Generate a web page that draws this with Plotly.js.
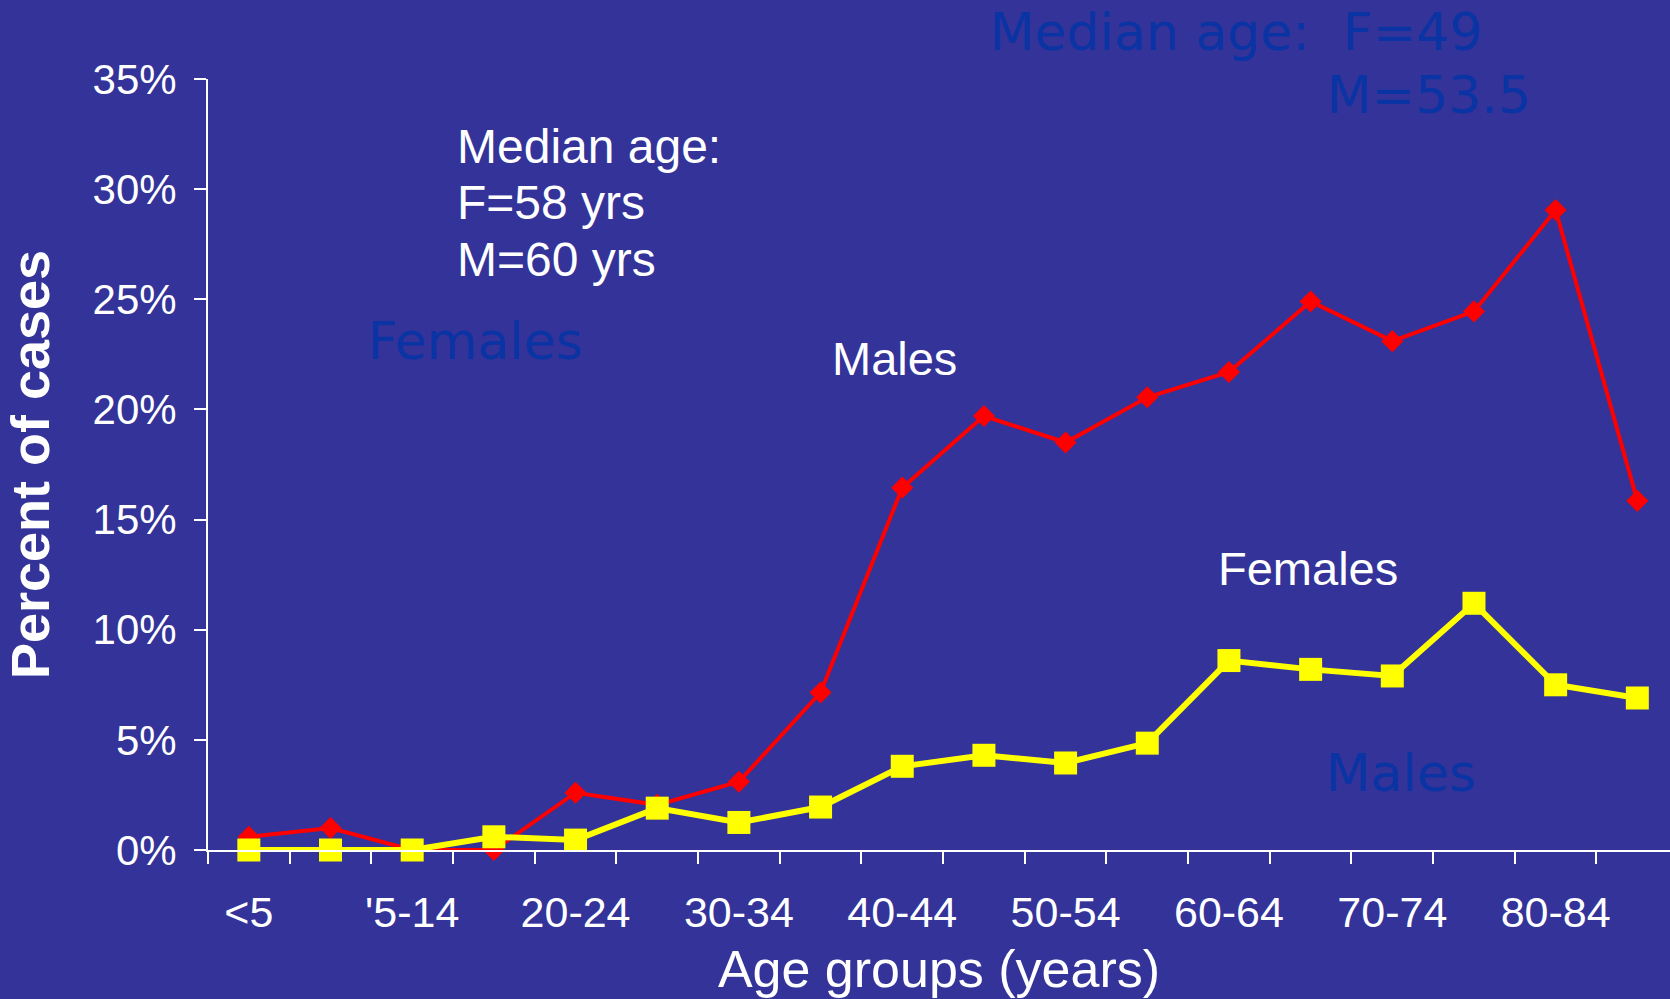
<!DOCTYPE html>
<html>
<head>
<meta charset="utf-8">
<script src="https://cdn.plot.ly/plotly-3.0.1.min.js"></script>
<style>html,body{margin:0;padding:0;background:#333399;}#chart{width:1670px;height:999px;}</style>
</head>
<body>
<div id="chart"></div>
<script>
// Age group categories
var ageGroups = ['<5','5-9','10-14','15-19','20-24','25-29','30-34','35-39','40-44','45-49','50-54','55-59','60-64','65-69','70-74','75-79','80-84','85+'];
// Tick labels as shown on the chart (every other group)
var tickLabels = ['&lt;5','',"'5-14",'','20-24','','30-34','','40-44','','50-54','','60-64','','70-74','','80-84',''];
// Percent of cases, males
var malesPct = [0.6, 1.0, 0.0, 0.0, 2.6, 2.05, 3.1, 7.15, 16.45, 19.7, 18.5, 20.55, 21.7, 24.9, 23.1, 24.45, 29.05, 15.85];
// Percent of cases, females
var femalesPct = [0.0, 0.0, 0.0, 0.6, 0.45, 1.9, 1.25, 1.95, 3.8, 4.3, 3.95, 4.85, 8.6, 8.2, 7.9, 11.2, 7.5, 6.9];

var BG = '#333399';
var DARK = '#0a33a3';
var SANS = 'Arial, "Liberation Sans", sans-serif';
var WIDE = '"DejaVu Sans", Verdana, sans-serif';

var traces = [
  {
    x: ageGroups, y: malesPct, type: 'scatter', mode: 'lines+markers', name: 'Males',
    line: {color: '#ff0000', width: 4},
    marker: {symbol: 'diamond', size: 17, color: '#ff0000'},
    cliponaxis: false, hoverinfo: 'x+y'
  },
  {
    x: ageGroups, y: femalesPct, type: 'scatter', mode: 'lines+markers', name: 'Females',
    line: {color: '#ffff00', width: 6},
    marker: {symbol: 'square', size: 23, color: '#ffff00'},
    cliponaxis: false, hoverinfo: 'x+y'
  }
];

function whiteNote(x, y, text, anchor) {
  return {x: x, y: y, xref: 'x', yref: 'y', xanchor: anchor, yanchor: 'middle', align: 'left',
          showarrow: false, text: text, font: {family: SANS, size: 47, color: '#ffffff'}};
}
function darkNote(x, y, text, anchor, yref) {
  return {x: x, y: y, xref: 'x', yref: yref || 'y', xanchor: anchor, yanchor: 'middle', align: 'left',
          showarrow: false, text: text, font: {family: WIDE, size: 52, color: DARK}};
}

var notes = [
  whiteNote(2.52, 31.95, 'Median age:', 'left'),
  whiteNote(2.52, 29.4, 'F=58 yrs', 'left'),
  whiteNote(2.52, 26.8, 'M=60 yrs', 'left'),
  whiteNote(7.91, 22.3, 'Males', 'center'),
  whiteNote(12.97, 12.8, 'Females', 'center'),
  darkNote(2.77, 23.1, 'Females', 'center'),
  darkNote(14.11, 3.5, 'Males', 'center'),
  darkNote(9.05, 1.061, 'Median age:  F=49', 'left', 'paper'),
  darkNote(13.18, 0.979, 'M=53.5', 'left', 'paper')
];
for (var i = 0; i < 3; i++) notes[i].font.size = 48;

var layout = {
  width: 1670, height: 999,
  paper_bgcolor: BG, plot_bgcolor: BG,
  margin: {l: 208, r: 0, t: 79, b: 149, pad: 0},
  showlegend: false,
  font: {family: SANS, color: '#ffffff'},
  xaxis: {
    type: 'category',
    range: [-0.5, 17.4],
    tickmode: 'array', tickvals: ageGroups, ticktext: tickLabels,
    tickson: 'boundaries', tickangle: 0,
    ticks: 'outside', ticklen: 12, tickwidth: 2, tickcolor: '#ffffff',
    showline: true, linecolor: '#ffffff', linewidth: 2,
    showgrid: false, zeroline: false,
    tickfont: {family: SANS, size: 43, color: '#ffffff'},
    ticklabelstandoff: 23,
    title: {text: 'Age groups (years)', font: {family: SANS, size: 52, color: '#ffffff'}, standoff: 16}
  },
  yaxis: {
    range: [0, 35], dtick: 5, tick0: 0, ticksuffix: '%',
    ticks: 'outside', ticklen: 12, tickwidth: 2, tickcolor: '#ffffff',
    showline: true, linecolor: '#ffffff', linewidth: 2,
    showgrid: false, zeroline: false,
    tickfont: {family: SANS, size: 42, color: '#ffffff'},
    ticklabelstandoff: 9,
    title: {text: 'Percent of cases', font: {family: SANS, size: 54, color: '#ffffff', weight: 'bold'}, standoff: 26}
  },
  annotations: notes
};

Plotly.newPlot('chart', traces, layout, {displayModeBar: false, staticPlot: true});
</script>
</body>
</html>
